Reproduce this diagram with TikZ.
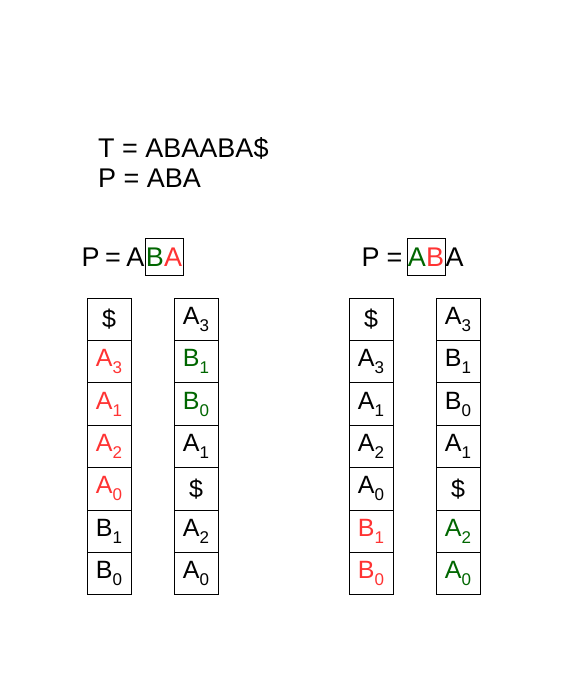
\documentclass[tikz,border=0pt]{standalone}
\usepackage{fontspec}
\setmainfont{Liberation Sans}
\usepackage{xcolor}
\usetikzlibrary{positioning}
\definecolor{hitRed}{HTML}{FF3333}
\definecolor{hitGreen}{HTML}{006600}
\newcommand{\cellSub}[2]{#1\raisebox{-7pt}{\fontsize{17}{17}\selectfont #2}}
\newcommand{\rd}[1]{\textcolor{hitRed}{#1}}
\newcommand{\gr}[1]{\textcolor{hitGreen}{#1}}

\tikzset{
  cell/.style={draw, line width=0.8pt, minimum width=44pt, minimum height=42.4pt,
               inner sep=0pt, font=\fontsize{25}{25}\selectfont},
  patbox/.style={draw, line width=0.8pt, inner xsep=1pt, minimum height=37pt,
                 font=\fontsize{27}{27}\selectfont},
  hdr/.style={inner sep=0pt, font=\fontsize{27}{27}\selectfont},
  intro/.style={inner sep=0pt, anchor=base west, font=\fontsize{27}{27}\selectfont}
}

\begin{document}
\begin{tikzpicture}[x=1pt, y=-1pt]
  \useasboundingbox (0,0) rectangle (567,680);

  % text and pattern
  \node[intro] (tline) at (98,157) {T = ABAABA\$};
  \node[intro] (pline) at (98,187) {P = ABA};

  % left header: suffix BA
  \node[patbox] (boxL) at (164,257) {\gr{B}\rd{A}};
  \node[hdr, anchor=base east] (hdrL) at (boxL.base west) {P\hspace{5.5pt}=\hspace{5.5pt}A};

  % right header: prefix AB
  \node[patbox] (boxR) at (426,257) {\gr{A}\rd{B}};
  \node[hdr, anchor=base east, xshift=-4pt] (hdrR) at (boxR.base west) {P\hspace{7pt}=};
  \node[hdr, anchor=base west] (tailR) at (boxR.base east) {A};

  % left pair of columns
  \foreach \txt [count=\i] in {\$, \rd{\cellSub{A}{3}}, \rd{\cellSub{A}{1}}, \rd{\cellSub{A}{2}},
                               \rd{\cellSub{A}{0}}, \cellSub{B}{1}, \cellSub{B}{0}}
    \node[cell] (la-\i) at (109, {298+42.4*(\i-0.5)}) {\txt};
  \foreach \txt [count=\i] in {\cellSub{A}{3}, \gr{\cellSub{B}{1}}, \gr{\cellSub{B}{0}}, \cellSub{A}{1},
                               \$, \cellSub{A}{2}, \cellSub{A}{0}}
    \node[cell] (lb-\i) at (196, {298+42.4*(\i-0.5)}) {\txt};

  % right pair of columns
  \foreach \txt [count=\i] in {\$, \cellSub{A}{3}, \cellSub{A}{1}, \cellSub{A}{2},
                               \cellSub{A}{0}, \rd{\cellSub{B}{1}}, \rd{\cellSub{B}{0}}}
    \node[cell] (ra-\i) at (371, {298+42.4*(\i-0.5)}) {\txt};
  \foreach \txt [count=\i] in {\cellSub{A}{3}, \cellSub{B}{1}, \cellSub{B}{0}, \cellSub{A}{1},
                               \$, \gr{\cellSub{A}{2}}, \gr{\cellSub{A}{0}}}
    \node[cell] (rb-\i) at (458, {298+42.4*(\i-0.5)}) {\txt};
\end{tikzpicture}
\end{document}
